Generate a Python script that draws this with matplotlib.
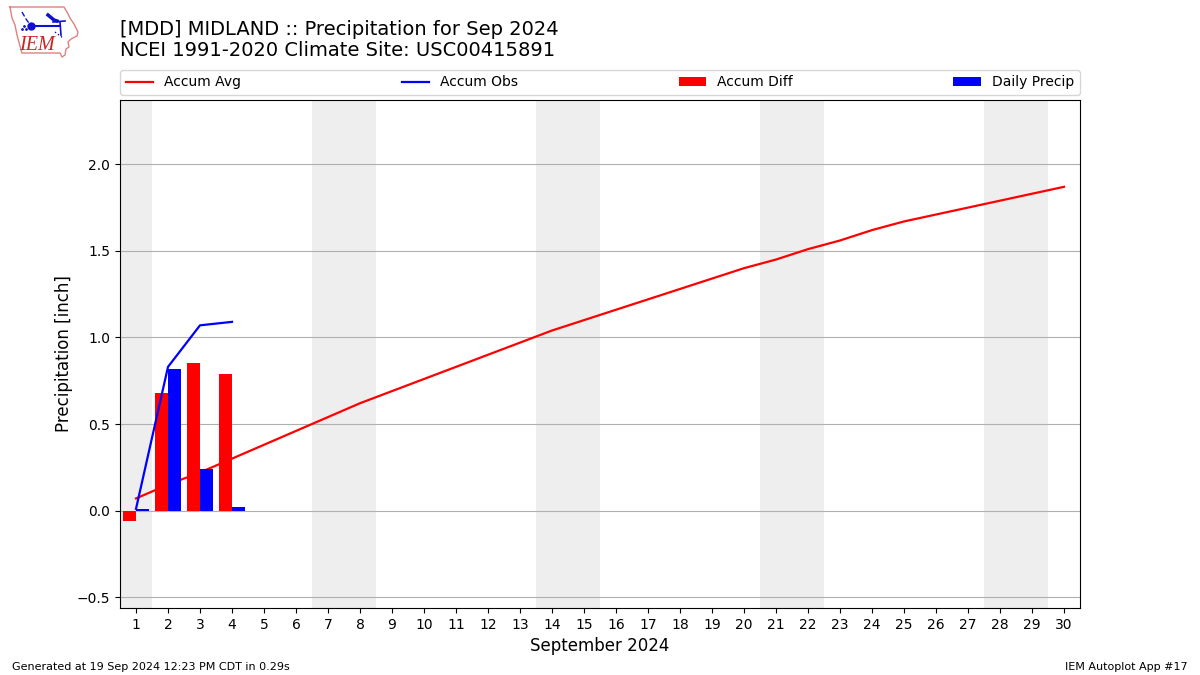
import matplotlib
matplotlib.use("Agg")
import matplotlib.pyplot as plt
import numpy as np

days = list(range(1, 31))
accum_avg = [0.07, 0.15, 0.22, 0.30, 0.38, 0.46, 0.54, 0.62, 0.69, 0.76,
             0.83, 0.90, 0.97, 1.04, 1.10, 1.16, 1.22, 1.28, 1.34, 1.40,
             1.45, 1.51, 1.56, 1.62, 1.67, 1.71, 1.75, 1.79, 1.83, 1.87]
obs_days = [1, 2, 3, 4]
accum_obs = [0.01, 0.83, 1.07, 1.09]
accum_diff = [-0.06, 0.68, 0.85, 0.79]
daily_precip = [0.01, 0.82, 0.24, 0.02]
weekend_spans = [(0.5, 1.5), (6.5, 8.5), (13.5, 15.5), (20.5, 22.5), (27.5, 29.5)]

fig = plt.figure(figsize=(12, 6.75), dpi=100)
ax = fig.add_axes([0.1, 1 - 608 / 675, 0.8, (608 - 100) / 675])

for a, b in weekend_spans:
    ax.axvspan(a, b, color="#eeeeee", lw=0, zorder=0)

ax.plot(days, accum_avg, color="red", lw=1.6, label="Accum Avg", zorder=2)
ax.plot(obs_days, accum_obs, color="blue", lw=1.6, label="Accum Obs", zorder=4)
ax.bar(np.array(obs_days) - 0.2, accum_diff, width=0.4, color="red", label="Accum Diff", zorder=3)
ax.bar(np.array(obs_days) + 0.2, daily_precip, width=0.4, color="blue", label="Daily Precip", zorder=3)

ax.set_xlim(0.5, 30.5)
ax.set_ylim(-0.5628, 2.3715)
ax.set_xticks(days)
ax.set_yticks([-0.5, 0, 0.5, 1.0, 1.5, 2.0])
ax.tick_params(labelsize=10)
ax.yaxis.grid(True, color="#b0b0b0", lw=0.8, zorder=1)
ax.set_axisbelow(True)
ax.set_xlabel("September 2024", fontsize=12, labelpad=3.5)
ax.set_ylabel("Precipitation [inch]", fontsize=12, labelpad=3)

ax.legend(loc="lower left", bbox_to_anchor=(0, 1 + 5 / 508, 1, 0.05), ncol=4, mode="expand",
          borderaxespad=0, fontsize=10)

fig.text(120 / 1200, 1 - 29.5 / 675, "[MDD] MIDLAND :: Precipitation for Sep 2024", fontsize=14, va="center", ha="left")
fig.text(120 / 1200, 1 - 50.5 / 675, "NCEI 1991-2020 Climate Site: USC00415891", fontsize=14, va="center", ha="left")
fig.text(12 / 1200, 1 - 666.5 / 675, "Generated at 19 Sep 2024 12:23 PM CDT in 0.29s", fontsize=8, va="center", ha="left")
fig.text(1188 / 1200, 1 - 666.5 / 675, "IEM Autoplot App #17", fontsize=8, va="center", ha="right")

# Logo (approximate drawing in pixel coordinates)
logo = fig.add_axes([0, 1 - 60 / 675, 80 / 1200, 60 / 675])
logo.set_xlim(0, 80)
logo.set_ylim(60, 0)
logo.axis("off")
outline_x = [10, 64, 67, 70, 74, 78, 77, 71, 68, 69, 66, 65, 62, 60, 22, 20, 17, 15, 12, 10]
outline_y = [7, 7, 12, 18, 24, 32, 36, 39, 42, 47, 49, 55, 57, 53, 53, 46, 35, 25, 18, 7]
logo.plot(outline_x, outline_y, color="#e08080", lw=1)
logo.plot([31, 60], [26, 26], color="#1010d0", lw=1.5)
logo.plot([48, 54, 57], [15, 20, 21], color="#1010d0", lw=2.5)
logo.plot([53, 65], [22, 21], color="#1010d0", lw=1.2)
logo.plot([60, 61], [22, 35], color="#1010d0", lw=1.2)
logo.plot([55, 63], [32, 38], color="#1010d0", lw=1, ls=":")
logo.plot([22, 26, 31], [12, 19, 26], color="#1010d0", lw=1, ls="--")
logo.plot([31], [26], "o", color="#1010d0", ms=5)
logo.plot([24, 22, 26], [26, 29, 29], "o", color="#1010d0", ms=1)
logo.text(37, 45, "IEM", color="#cc2222", fontsize=14.5, family="Liberation Serif", style="italic",
          ha="center", va="center")

fig.savefig("out.png", dpi=100)
